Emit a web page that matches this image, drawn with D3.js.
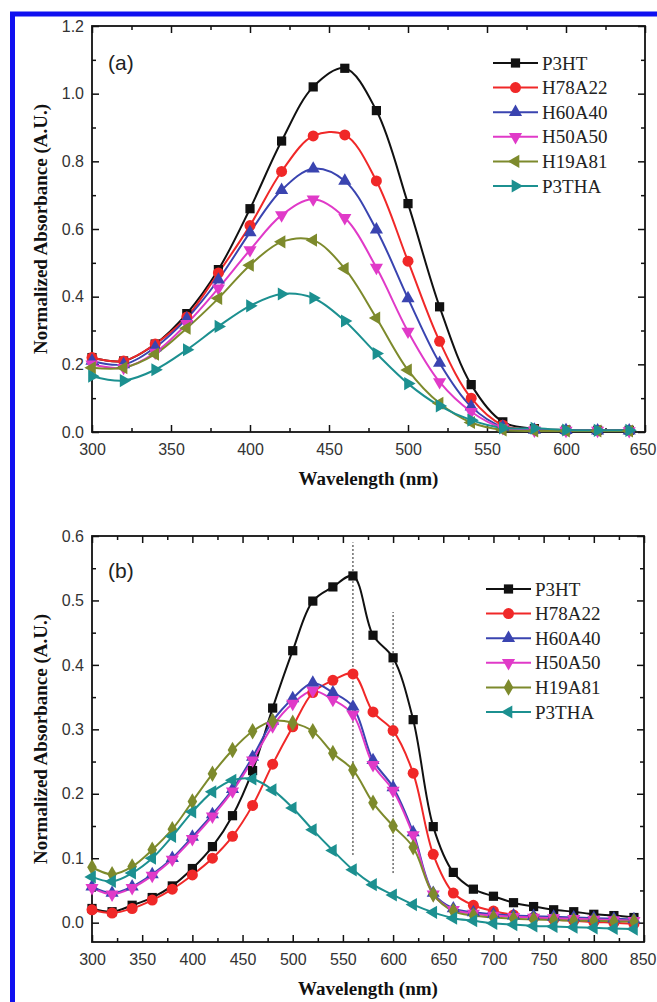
<!DOCTYPE html>
<html>
<head>
<meta charset="utf-8">
<script src="https://cdn.jsdelivr.net/npm/d3@7"></script>
<style>
  body { margin: 0; background: #fff; }
</style>
</head>
<body>
<div id="chart"></div>
<script>
// svg size
var svgWidth = 657;
var svgHeight = 1002;

var sansFont = "Arial, 'Liberation Sans', sans-serif";
var serifFont = "'Times New Roman', 'Liberation Serif', 'DejaVu Serif', serif";

// series names and colours
var seriesNamesA = ["P3HT", "H78A22", "H60A40", "H50A50", "H19A81", "P3THA"];
var seriesNamesB = ["P3HT", "H78A22", "H60A40", "H50A50", "H19A81", "P3THA"];
var seriesColors = ["#111111", "#f02828", "#3a44b0", "#e03ac8", "#7d8a2c", "#1c9090"];
var markersA = ["square", "circle", "up", "down", "left", "right"];
var markersB = ["square", "circle", "up", "down", "diamond", "left"];

// panel (a): wavelength (nm)
var wavelengthA = [300, 320, 340, 360, 380, 400, 420, 440, 460, 480, 500, 520, 540, 560, 580, 600, 620, 640];
var p3htA   = [0.22, 0.21, 0.26, 0.35, 0.48, 0.66, 0.86, 1.02, 1.075, 0.95, 0.675, 0.37, 0.14, 0.03, 0.01, 0.006, 0.005, 0.005];
var h78a22A = [0.22, 0.21, 0.26, 0.34, 0.47, 0.61, 0.77, 0.875, 0.878, 0.742, 0.505, 0.268, 0.1, 0.02, 0.008, 0.005, 0.005, 0.004];
var h60a40A = [0.21, 0.2, 0.25, 0.335, 0.45, 0.59, 0.715, 0.778, 0.742, 0.598, 0.395, 0.204, 0.075, 0.015, 0.006, 0.005, 0.004, 0.004];
var h50a50A = [0.2, 0.19, 0.235, 0.32, 0.425, 0.538, 0.641, 0.688, 0.633, 0.486, 0.297, 0.148, 0.06, 0.012, 0.005, 0.004, 0.004, 0.003];
var h19a81A = [0.19, 0.19, 0.23, 0.307, 0.395, 0.493, 0.562, 0.567, 0.483, 0.337, 0.183, 0.085, 0.028, 0.006, 0.003, 0.003, 0.003, 0.003];
var p3thaA  = [0.165, 0.152, 0.184, 0.243, 0.312, 0.373, 0.408, 0.396, 0.328, 0.232, 0.143, 0.077, 0.035, 0.012, 0.011, 0.006, 0.005, 0.005];

// panel (b): wavelength (nm)
var wavelengthB = [300, 320, 340, 360, 380, 400, 420, 440, 460, 480, 500, 520, 540, 560, 580, 600, 620, 640,
                   660, 680, 700, 720, 740, 760, 780, 800, 820, 840];
var p3htB   = [0.022, 0.017, 0.027, 0.039, 0.057, 0.084, 0.118, 0.166, 0.236, 0.333, 0.422, 0.499, 0.521, 0.538, 0.446, 0.411, 0.315, 0.149,
               0.078, 0.052, 0.041, 0.031, 0.025, 0.02, 0.017, 0.013, 0.011, 0.008];
var h78a22B = [0.02, 0.015, 0.022, 0.035, 0.052, 0.074, 0.1, 0.134, 0.182, 0.246, 0.304, 0.357, 0.376, 0.386, 0.327, 0.298, 0.232, 0.106,
               0.046, 0.027, 0.018, 0.012, 0.008, 0.005, 0.003, 0.001, 0.0, -0.002];
var h60a40B = [0.056, 0.046, 0.056, 0.075, 0.1, 0.133, 0.168, 0.207, 0.257, 0.313, 0.348, 0.372, 0.357, 0.335, 0.252, 0.21, 0.14, 0.046,
               0.022, 0.016, 0.013, 0.011, 0.01, 0.009, 0.008, 0.007, 0.006, 0.005];
var h50a50B = [0.054, 0.044, 0.054, 0.073, 0.098, 0.13, 0.165, 0.204, 0.252, 0.305, 0.34, 0.36, 0.346, 0.323, 0.245, 0.205, 0.136, 0.044,
               0.02, 0.014, 0.011, 0.009, 0.008, 0.007, 0.006, 0.005, 0.004, 0.003];
var h19a81B = [0.086, 0.075, 0.087, 0.113, 0.145, 0.188, 0.231, 0.268, 0.297, 0.313, 0.31, 0.297, 0.263, 0.237, 0.186, 0.15, 0.117, 0.044,
               0.018, 0.011, 0.008, 0.006, 0.005, 0.004, 0.003, 0.003, 0.002, 0.002];
var p3thaB  = [0.071, 0.064, 0.077, 0.1, 0.134, 0.172, 0.203, 0.221, 0.223, 0.206, 0.178, 0.144, 0.112, 0.082, 0.059, 0.043, 0.028, 0.016,
               0.007, 0.003, -0.001, -0.003, -0.005, -0.006, -0.007, -0.008, -0.009, -0.01];

// dotted guide lines in panel (b): [wavelength, low, high]
var guideLinesB = [[560, 0.105, 0.59], [600, 0.077, 0.482]];

// ticks
var xTicksA = [300, 350, 400, 450, 500, 550, 600, 650];
var xMinorA = [325, 375, 425, 475, 525, 575, 625];
var yTicksA = [0.0, 0.2, 0.4, 0.6, 0.8, 1.0, 1.2];
var yMinorA = [0.1, 0.3, 0.5, 0.7, 0.9, 1.1];
var xTicksB = [300, 350, 400, 450, 500, 550, 600, 650, 700, 750, 800, 850];
var xMinorB = [325, 375, 425, 475, 525, 575, 625, 675, 725, 775, 825];
var yTicksB = [0.0, 0.1, 0.2, 0.3, 0.4, 0.5, 0.6];
var yMinorB = [0.05, 0.15, 0.25, 0.35, 0.45, 0.55];

var svg = d3.select("#chart").append("svg")
  .attr("width", svgWidth)
  .attr("height", svgHeight);

// blue frame around the figure
svg.append("rect")
  .attr("x", 12.5).attr("y", 14)
  .attr("width", 700).attr("height", 1100)
  .attr("fill", "none")
  .attr("stroke", "#1010f0")
  .attr("stroke-width", 5);

function symbolPath(kind, size) {
  var type = d3.symbolTriangle;
  if (kind === "square") type = d3.symbolSquare;
  if (kind === "circle") type = d3.symbolCircle;
  if (kind === "diamond") type = d3.symbolDiamond;
  return d3.symbol().type(type).size(size)();
}

function symbolRotate(kind) {
  if (kind === "down") return 180;
  if (kind === "left") return -90;
  if (kind === "right") return 90;
  return 0;
}

function symbolSize(kind) {
  if (kind === "square") return 85;
  if (kind === "circle") return 95;
  if (kind === "diamond") return 80;
  return 75;
}

function drawPanel(p) {
  var xScale = d3.scaleLinear().domain(p.xDomain).range([p.left, p.right]);
  var yScale = d3.scaleLinear().domain(p.yDomain).range([p.bottom, p.top]);
  var g = svg.append("g");

  // frame
  g.append("rect")
    .attr("x", p.left).attr("y", p.top)
    .attr("width", p.right - p.left).attr("height", p.bottom - p.top)
    .attr("fill", "none").attr("stroke", "#111").attr("stroke-width", 1.8);

  // ticks on all four sides, pointing in
  var bottomAxis = d3.axisBottom(xScale).tickValues(p.xTicks).tickSizeInner(-7).tickSizeOuter(0).tickFormat(d3.format("d"));
  var bottomMinor = d3.axisBottom(xScale).tickValues(p.xMinor).tickSizeInner(-4).tickSizeOuter(0).tickFormat("");
  var topAxis = d3.axisTop(xScale).tickValues(p.xTicks).tickSizeInner(-7).tickSizeOuter(0).tickFormat("");
  var topMinor = d3.axisTop(xScale).tickValues(p.xMinor).tickSizeInner(-4).tickSizeOuter(0).tickFormat("");
  var leftAxis = d3.axisLeft(yScale).tickValues(p.yTicks).tickSizeInner(-7).tickSizeOuter(0).tickFormat(d3.format(".1f"));
  var leftMinor = d3.axisLeft(yScale).tickValues(p.yMinor).tickSizeInner(-4).tickSizeOuter(0).tickFormat("");
  var rightAxis = d3.axisRight(yScale).tickValues(p.yTicks).tickSizeInner(-7).tickSizeOuter(0).tickFormat("");
  var rightMinor = d3.axisRight(yScale).tickValues(p.yMinor).tickSizeInner(-4).tickSizeOuter(0).tickFormat("");

  var axes = [
    [bottomAxis, "translate(0," + p.bottom + ")"],
    [bottomMinor, "translate(0," + p.bottom + ")"],
    [topAxis, "translate(0," + p.top + ")"],
    [topMinor, "translate(0," + p.top + ")"],
    [leftAxis, "translate(" + p.left + ",0)"],
    [leftMinor, "translate(" + p.left + ",0)"],
    [rightAxis, "translate(" + p.right + ",0)"],
    [rightMinor, "translate(" + p.right + ",0)"]
  ];
  axes.forEach(function(a) {
    var ag = g.append("g").attr("transform", a[1]).call(a[0])
      .attr("font-family", sansFont).attr("font-size", 16);
    ag.select(".domain").remove();
    ag.selectAll("line").attr("stroke", "#111").attr("stroke-width", 1.5);
    ag.selectAll("text").attr("fill", "#333");
  });
  g.selectAll(".tick text").each(function(d) {
    var t = d3.select(this);
    if (t.attr("dy") === "0.71em") {
      t.attr("y", 12);
      // keep the last x label inside the page edge
      if (d === p.xDomain[1]) t.attr("text-anchor", "end").attr("x", 656 - p.right);
    } else {
      t.attr("x", -8);
    }
  });

  // dotted guides
  (p.guides || []).forEach(function(d) {
    g.append("line")
      .attr("x1", xScale(d[0])).attr("x2", xScale(d[0]))
      .attr("y1", yScale(d[1])).attr("y2", yScale(d[2]))
      .attr("stroke", "#222").attr("stroke-width", 1)
      .attr("stroke-dasharray", "2,2");
  });

  // curves and markers
  var line = d3.line()
    .x(function(d) { return xScale(d[0]); })
    .y(function(d) { return yScale(d[1]); })
    .curve(d3.curveCatmullRom.alpha(0.5));

  p.series.forEach(function(vals, i) {
    var pts = p.x.map(function(x, j) { return [x, vals[j]]; });
    g.append("path")
      .datum(pts)
      .attr("d", line)
      .attr("fill", "none")
      .attr("stroke", seriesColors[i])
      .attr("stroke-width", 2);
  });
  p.series.forEach(function(vals, i) {
    var kind = p.markers[i];
    var pts = p.x.map(function(x, j) { return [x, vals[j]]; });
    g.selectAll(".mk" + i)
      .data(pts)
      .enter()
      .append("path")
      .attr("d", symbolPath(kind, symbolSize(kind)))
      .attr("transform", function(d) {
        return "translate(" + xScale(d[0]) + "," + yScale(d[1]) + ") rotate(" + symbolRotate(kind) + ")";
      })
      .attr("fill", seriesColors[i]);
  });

  // legend
  p.names.forEach(function(name, i) {
    var ly = p.legendY + i * p.legendStep;
    g.append("line")
      .attr("x1", p.legendX).attr("x2", p.legendX + 45)
      .attr("y1", ly).attr("y2", ly)
      .attr("stroke", seriesColors[i]).attr("stroke-width", 2);
    var kind = p.markers[i];
    g.append("path")
      .attr("d", symbolPath(kind, symbolSize(kind)))
      .attr("transform", "translate(" + (p.legendX + 22.5) + "," + ly + ") rotate(" + symbolRotate(kind) + ")")
      .attr("fill", seriesColors[i]);
    g.append("text")
      .style("font-family", serifFont)
      .attr("font-size", 19)
      .attr("fill", "#222")
      .attr("x", p.legendX + 49)
      .attr("y", ly + 6.5)
      .text(name);
  });

  // panel tag
  g.append("text")
    .attr("font-family", sansFont)
    .attr("font-size", 21)
    .attr("fill", "#222")
    .attr("x", p.left + 16)
    .attr("y", p.top + p.tagDy)
    .text(p.tag);

  // axis titles
  g.append("text")
    .style("font-family", serifFont)
    .attr("font-weight", "bold")
    .attr("font-size", 19)
    .attr("fill", "#111")
    .attr("x", (p.left + p.right) / 2)
    .attr("y", p.bottom + 53)
    .attr("text-anchor", "middle")
    .text("Wavelength (nm)");

  g.append("text")
    .style("font-family", serifFont)
    .attr("font-weight", "bold")
    .attr("font-size", 19)
    .attr("fill", "#111")
    .attr("transform", "translate(47," + ((p.top + p.bottom) / 2) + ") rotate(-90)")
    .attr("text-anchor", "middle")
    .text("Normalized Absorbance (A.U.)");
}

drawPanel({
  left: 92, right: 645, top: 26, bottom: 432,
  xDomain: [300, 650], yDomain: [0, 1.2],
  xTicks: xTicksA, xMinor: xMinorA, yTicks: yTicksA, yMinor: yMinorA,
  x: wavelengthA,
  series: [p3htA, h78a22A, h60a40A, h50a50A, h19a81A, p3thaA],
  names: seriesNamesA, markers: markersA,
  legendX: 493, legendY: 63, legendStep: 24.6,
  tag: "(a)", tagDy: 44
});

drawPanel({
  left: 92, right: 644, top: 536, bottom: 942,
  xDomain: [300, 850], yDomain: [-0.03, 0.6],
  xTicks: xTicksB, xMinor: xMinorB, yTicks: yTicksB, yMinor: yMinorB,
  x: wavelengthB,
  series: [p3htB, h78a22B, h60a40B, h50a50B, h19a81B, p3thaB],
  names: seriesNamesB, markers: markersB,
  guides: guideLinesB,
  legendX: 486, legendY: 589, legendStep: 24.6,
  tag: "(b)", tagDy: 42
});
</script>
</body>
</html>
